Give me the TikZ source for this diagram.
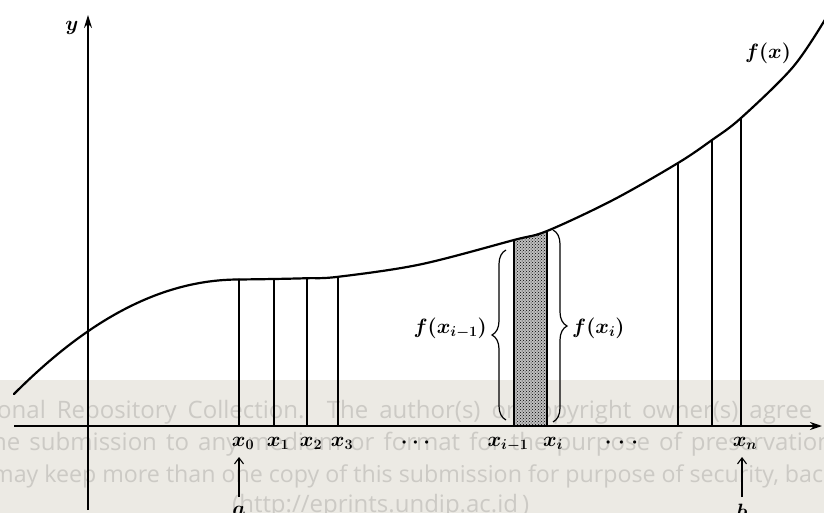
\documentclass[tikz,border=0pt]{standalone}
\usepackage{fontspec}
\newfontfamily\wmfont{Open Sans}
\usetikzlibrary{arrows.meta,decorations.pathreplacing,patterns,calc}
\definecolor{band}{RGB}{236,234,228}
\definecolor{wmtext}{RGB}{204,202,197}
\begin{document}
\begin{tikzpicture}[x=1pt,y=-1pt,
  axis/.style={line width=1.8pt},
  curve/.style={line width=2.2pt, line cap=round},
  ord/.style={line width=1.4pt},
  lab/.style={font=\boldmath\fontsize{21}{24}\selectfont, inner sep=0pt},
  dotsl/.style={font=\fontsize{8}{8}\selectfont, inner sep=0pt},
  ptr/.style={line width=1.1pt,-{Straight Barb[length=6pt,width=9pt]}},
  brc/.style={decorate,decoration={brace,amplitude=14pt},line width=1.2pt},
  wm/.style={font=\wmfont\fontsize{24}{24}\selectfont, text=wmtext, inner sep=0pt, anchor=base west}
]
\useasboundingbox (0,0) rectangle (824,513);
% watermark band
\fill[band] (0,380) rectangle (824,513);
\node[wm] (w1) at (-3,418) {\makebox[815pt][s]{onal Repository Collection. The author(s) or copyright owner(s) agree}};
\node[wm] (w2) at (-8,450) {\makebox[840pt][s]{he submission to any medium or format for the purpose of preservation}};
\node[wm, font=\wmfont\fontsize{23.2}{24}\selectfont] (w3) at (-8,482) {may keep more than one copy of this submission for purpose of security, back-up};
\node[wm] (w4) at (232,512) {\makebox[296pt][s]{(http://eprints.undip.ac.id )}};

% key points
\coordinate (O) at (88,426);
\coordinate (c0) at (239,279.5);
\coordinate (c1) at (274,279);
\coordinate (c2) at (307,278.2);
\coordinate (c3) at (338,276.8);
\coordinate (ca) at (514,240);
\coordinate (cb) at (547,231);
\coordinate (d1) at (678,163);
\coordinate (d2) at (712,140);
\coordinate (cn) at (741,118);
\coordinate (abot) at (0,497);
\coordinate (atop) at (0,457);

% shaded strip
\fill[gray!50] (ca |- O) -- (ca) -- (cb) -- (cb |- O) -- cycle;
\fill[pattern=crosshatch dots, pattern color=black] (ca |- O) -- (ca) -- (cb) -- (cb |- O) -- cycle;

% axes
\draw[axis,-{Stealth[length=12pt,width=8pt]}] (14,426) -- (822,426);
\draw[axis,-{Stealth[length=13pt,width=8pt]}] (88,510) -- (88,15);

% curve
\draw[curve] (14,394) .. controls (74,334) and (149,279.5) .. (c0);
\draw[curve] plot[smooth, tension=0.55] coordinates {(c0) (c1) (c2) (c3) (420,264.5) (ca) (cb) (613,200) (d1) (d2) (cn) (793,67) (826,18)};

% ordinates
\foreach \p in {c0,c1,c2,c3,ca,cb,d1,d2,cn}
  \draw[ord] (\p) -- (\p |- O);

% braces
\draw[brc] (506,420) -- (506,250);
\draw[brc] (553,230) -- (553,422);
\node[lab, anchor=east] (fl) at (487,328) {$f(x_{i-1})$};
\node[lab, anchor=west] (fr) at (572,328) {$f(x_i)$};

% labels
\node[lab] (ly) at (72,28) {$y$};
\node[lab] (lf) at (768,53) {$f(x)$};
\node[lab, anchor=base] (lx0) at (243,446) {$x_0$};
\node[lab, anchor=base] (lx1) at (278,446) {$x_1$};
\node[lab, anchor=base] (lx2) at (311,446) {$x_2$};
\node[lab, anchor=base] (lx3) at (342,446) {$x_3$};
\node[dotsl] (ld1) at (415.5,443) {$\bullet$\hspace{7pt}$\bullet$\hspace{7pt}$\bullet$};
\node[lab, anchor=base] (lxa) at (508,446) {$x_{i-1}$};
\node[lab, anchor=base] (lxb) at (553,446) {$x_i$};
\node[dotsl] (ld2) at (621.5,443) {$\bullet$\hspace{9pt}$\bullet$\hspace{9pt}$\bullet$};
\node[lab, anchor=base] (lxn) at (745,446) {$x_n$};
\node[lab] (la) at (239,511) {$a$};
\node[lab] (lb) at (742,511) {$b$};
\draw[ptr] (la |- abot) -- (la |- atop);
\draw[ptr] (lb |- abot) -- (lb |- atop);
\end{tikzpicture}
\end{document}
